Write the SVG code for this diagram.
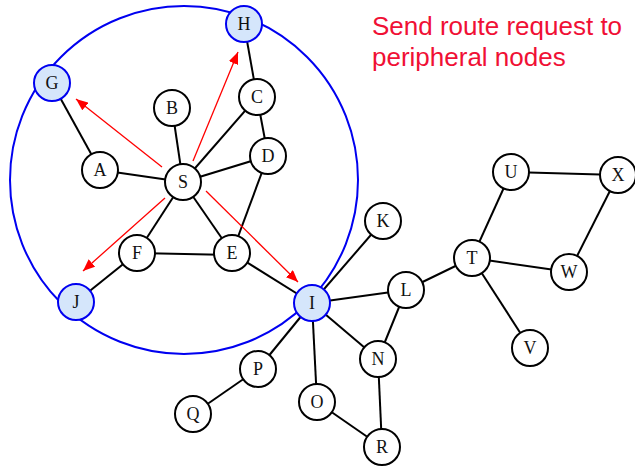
<svg xmlns="http://www.w3.org/2000/svg" width="635" height="468" viewBox="0 0 635 468">
<style>
.e{stroke:#000;stroke-width:2;fill:none}
.r{stroke:#f00;stroke-width:1.3;fill:none}
.n circle{fill:#fff;stroke:#000;stroke-width:2}
.p circle{fill:#d5e6fb;stroke:#0000f0;stroke-width:2}
text.l{font-family:"Liberation Serif",serif;font-size:18px;text-anchor:middle;fill:#111}
</style>
<defs>
<marker id="ah" viewBox="0 0 12 10" refX="12" refY="5" markerWidth="12" markerHeight="10" markerUnits="userSpaceOnUse" orient="auto">
<path d="M0,0L12,5L0,10z" fill="#f00"/>
</marker>
</defs>
<rect width="635" height="468" fill="#fff"/>
<circle id="range" cx="184" cy="180" r="174" fill="none" stroke="#0000f0" stroke-width="2"/>
<g id="connectors">
<line class="e" x1="52" y1="83" x2="100" y2="170"/>
<line class="e" x1="100" y1="170" x2="183" y2="182"/>
<line class="e" x1="172" y1="108" x2="183" y2="182"/>
<line class="e" x1="257" y1="97" x2="183" y2="182"/>
<line class="e" x1="244" y1="24" x2="257" y2="97"/>
<line class="e" x1="257" y1="97" x2="268" y2="156"/>
<line class="e" x1="268" y1="156" x2="183" y2="182"/>
<line class="e" x1="268" y1="156" x2="232" y2="253"/>
<line class="e" x1="183" y1="182" x2="137" y2="253"/>
<line class="e" x1="183" y1="182" x2="232" y2="253"/>
<line class="e" x1="137" y1="253" x2="232" y2="255"/>
<line class="e" x1="137" y1="253" x2="76" y2="302"/>
<line class="e" x1="232" y1="253" x2="312" y2="303"/>
<line class="e" x1="312" y1="303" x2="383" y2="221"/>
<line class="e" x1="312" y1="303" x2="406" y2="290"/>
<line class="e" x1="312" y1="303" x2="378" y2="359"/>
<line class="e" x1="312" y1="303" x2="258" y2="369"/>
<line class="e" x1="312" y1="303" x2="317" y2="402"/>
<line class="e" x1="406" y1="290" x2="378" y2="359"/>
<line class="e" x1="406" y1="290" x2="472" y2="258"/>
<line class="e" x1="472" y1="258" x2="511" y2="172"/>
<line class="e" x1="511" y1="172" x2="618" y2="175"/>
<line class="e" x1="618" y1="175" x2="569" y2="272"/>
<line class="e" x1="472" y1="258" x2="569" y2="272"/>
<line class="e" x1="472" y1="258" x2="530" y2="348"/>
<line class="e" x1="258" y1="369" x2="193" y2="414"/>
<line class="e" x1="317" y1="402" x2="382" y2="447"/>
<line class="e" x1="378" y1="359" x2="382" y2="447"/>
<line class="r" x1="162" y1="167" x2="76" y2="99" marker-end="url(#ah)"/>
<line class="r" x1="193" y1="161" x2="238" y2="52" marker-end="url(#ah)"/>
<line class="r" x1="165" y1="198" x2="83" y2="271" marker-end="url(#ah)"/>
<line class="r" x1="206" y1="191" x2="298" y2="282" marker-end="url(#ah)"/>
</g>
<g id="H" class="p"><circle cx="244" cy="24" r="18"/><text class="l" x="244" y="30">H</text></g>
<g id="G" class="p"><circle cx="52" cy="83" r="18"/><text class="l" x="52" y="89">G</text></g>
<g id="J" class="p"><circle cx="76" cy="302" r="18"/><text class="l" x="76" y="308">J</text></g>
<g id="I" class="p"><circle cx="312" cy="303" r="18"/><text class="l" x="312" y="309">I</text></g>
<g id="B" class="n"><circle cx="172" cy="108" r="18"/><text class="l" x="172" y="114">B</text></g>
<g id="C" class="n"><circle cx="257" cy="97" r="18"/><text class="l" x="257" y="103">C</text></g>
<g id="A" class="n"><circle cx="100" cy="170" r="18"/><text class="l" x="100" y="176">A</text></g>
<g id="S" class="n"><circle cx="183" cy="182" r="18"/><text class="l" x="183" y="188">S</text></g>
<g id="D" class="n"><circle cx="268" cy="156" r="18"/><text class="l" x="268" y="162">D</text></g>
<g id="F" class="n"><circle cx="137" cy="253" r="18"/><text class="l" x="137" y="259">F</text></g>
<g id="E" class="n"><circle cx="232" cy="253" r="18"/><text class="l" x="232" y="259">E</text></g>
<g id="K" class="n"><circle cx="383" cy="221" r="18"/><text class="l" x="383" y="227">K</text></g>
<g id="U" class="n"><circle cx="511" cy="172" r="18"/><text class="l" x="511" y="178">U</text></g>
<g id="X" class="n"><circle cx="618" cy="175" r="18"/><text class="l" x="618" y="181">X</text></g>
<g id="T" class="n"><circle cx="472" cy="258" r="18"/><text class="l" x="472" y="264">T</text></g>
<g id="W" class="n"><circle cx="569" cy="272" r="18"/><text class="l" x="569" y="278">W</text></g>
<g id="L" class="n"><circle cx="406" cy="290" r="18"/><text class="l" x="406" y="296">L</text></g>
<g id="N" class="n"><circle cx="378" cy="359" r="18"/><text class="l" x="378" y="365">N</text></g>
<g id="V" class="n"><circle cx="530" cy="348" r="18"/><text class="l" x="530" y="354">V</text></g>
<g id="P" class="n"><circle cx="258" cy="369" r="18"/><text class="l" x="258" y="375">P</text></g>
<g id="O" class="n"><circle cx="317" cy="402" r="18"/><text class="l" x="317" y="408">O</text></g>
<g id="Q" class="n"><circle cx="193" cy="414" r="18"/><text class="l" x="193" y="420">Q</text></g>
<g id="R" class="n"><circle cx="382" cy="447" r="18"/><text class="l" x="382" y="453">R</text></g>
<g id="caption" font-family="'Liberation Sans',Arial,sans-serif" font-size="26" fill="#f01035">
<text x="372" y="35">Send route request to</text>
<text x="372" y="66">peripheral nodes</text>
</g>
</svg>
